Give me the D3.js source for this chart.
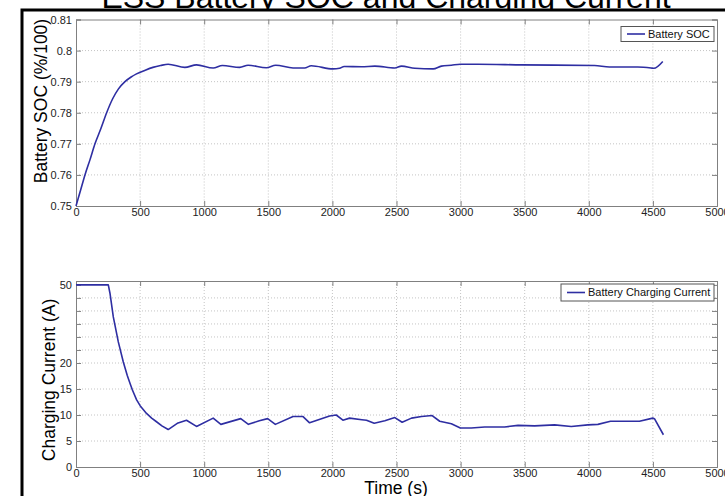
<!DOCTYPE html>
<html>
<head>
<meta charset="utf-8">
<script src="https://cdn.jsdelivr.net/npm/d3@7"></script>
<style>
  body { margin: 0; background: #fff; }
  svg { display: block; font-family: Arial, "Liberation Sans", sans-serif; }
</style>
</head>
<body>
<div id="chart"></div>
<script>
// values
var titleText = "ESS Battery SOC and Charging Current";

var socTime = [0, 35, 70, 110, 148, 195, 239, 286, 330, 382, 430, 472, 540, 600, 660, 719,
  849, 940, 1070, 1142, 1277, 1342, 1485, 1558, 1693, 1783, 1835, 2004, 2056, 2092, 2227,
  2331, 2487, 2539, 2643, 2786, 2850, 2928, 2998, 3136, 3474, 4045, 4161, 4382, 4486, 4507, 4577];
var socValue = [0.750, 0.755, 0.760, 0.765, 0.770, 0.775, 0.780, 0.7845, 0.7876, 0.7900, 0.7915, 0.7925, 0.7937, 0.7946, 0.7952, 0.7956,
  0.7946, 0.7954, 0.7944, 0.7952, 0.7946, 0.7953, 0.7945, 0.7953, 0.7944, 0.7944, 0.7951, 0.7941, 0.7943, 0.7949, 0.7948,
  0.7950, 0.7944, 0.7950, 0.7943, 0.7941, 0.7950, 0.7953, 0.7956, 0.7956, 0.7954, 0.7952, 0.7947, 0.7947, 0.7944, 0.7943, 0.7965];

var curTime = [0, 252, 265, 291, 330, 369, 400, 421, 440, 473, 500, 550, 590, 628, 670, 719, 790, 862, 940, 1070,
  1130, 1285, 1345, 1430, 1495, 1555, 1693, 1771, 1822, 1978, 2030, 2082, 2134, 2230, 2266, 2326, 2409, 2487, 2544, 2617,
  2695, 2778, 2837, 2928, 2998, 3083, 3188, 3343, 3448, 3577, 3733, 3863, 3993, 4071, 4169, 4304, 4395, 4499, 4512, 4582];
var curValue = [50, 50, 46.8, 37.7, 28.1, 20.4, 17.6, 16.1, 14.8, 12.9, 11.8, 10.3, 9.4, 8.7, 7.9, 7.2, 8.4, 9.0, 7.8, 9.4,
  8.2, 9.3, 8.2, 8.9, 9.3, 8.2, 9.7, 9.7, 8.5, 9.8, 10.0, 9.0, 9.4, 9.1, 9.0, 8.4, 8.9, 9.5, 8.6, 9.4,
  9.7, 9.9, 8.8, 8.3, 7.5, 7.5, 7.7, 7.7, 8.0, 7.9, 8.1, 7.8, 8.1, 8.2, 8.8, 8.8, 8.8, 9.4, 9.3, 6.2];

var timeTicks = [0, 500, 1000, 1500, 2000, 2500, 3000, 3500, 4000, 4500, 5000];
var socTicks = [0.75, 0.76, 0.77, 0.78, 0.79, 0.80, 0.81];
var socTickLabels = ["0.75", "0.76", "0.77", "0.78", "0.79", "0.8", "0.81"];
var curTicks = [0, 5, 10, 15, 20, 25, 30, 35, 40, 45, 50];
var curTickLabels = ["0", "5", "10", "15", "20", "", "", "", "", "", "50"];

var W = 725, H = 496,
    lineColor = "#2e2ea2", axisColor = "#808080", gridColor = "#c4c4c4",
    plotW = 641;

var svg = d3.select("#chart").append("svg")
  .attr("width", W).attr("height", H);

// title (top is cut off in the picture)
svg.append("text")
  .attr("x", 386).attr("y", 8)
  .attr("text-anchor", "middle")
  .style("font-size", "32px")
  .text(titleText);

// outer black frame
svg.append("rect")
  .attr("x", 22).attr("y", 10)
  .attr("width", 800).attr("height", 600)
  .attr("fill", "#fff").attr("stroke", "#000").attr("stroke-width", 3);

var xScale = d3.scaleLinear().domain([0, 5000]).range([0, plotW]);

function drawPanel(p){
  var g = svg.append("g").attr("transform", "translate(" + p.left + "," + p.top + ")");
  var h = p.height, y = p.y;

  // grid
  g.append("g").selectAll("line").data(timeTicks.slice(1, -1)).join("line")
    .attr("x1", d => xScale(d)).attr("x2", d => xScale(d))
    .attr("y1", 0).attr("y2", h)
    .attr("stroke", gridColor).attr("stroke-dasharray", "1,2");
  g.append("g").selectAll("line").data(p.ticks.slice(1, -1)).join("line")
    .attr("x1", 0).attr("x2", plotW)
    .attr("y1", d => y(d)).attr("y2", d => y(d))
    .attr("stroke", gridColor).attr("stroke-dasharray", "1,2");

  // axes, ticks pointing inward like matlab
  var xb = g.append("g").attr("transform", "translate(0," + h + ")")
    .call(d3.axisBottom(xScale).tickValues(timeTicks).tickSize(-5).tickPadding(2)
      .tickFormat(d => String(d)));
  var xt = g.append("g")
    .call(d3.axisTop(xScale).tickValues(timeTicks).tickSize(-5).tickFormat(""));
  var yl = g.append("g")
    .call(d3.axisLeft(y).tickValues(p.ticks).tickSize(-5).tickPadding(4)
      .tickFormat((d, i) => p.labels[i]));
  var yr = g.append("g").attr("transform", "translate(" + plotW + ",0)")
    .call(d3.axisRight(y).tickValues(p.ticks).tickSize(-5).tickFormat(""));
  [xb, xt, yl, yr].forEach(function(a){
    a.attr("font-family", null);
    a.selectAll("path, line").attr("stroke", axisColor);
    a.selectAll("text").attr("fill", "#222").style("font-size", "11px");
  });

  // data line
  g.append("path")
    .datum(d3.zip(p.xs, p.ys))
    .attr("fill", "none")
    .attr("stroke", lineColor)
    .attr("stroke-width", 1.6)
    .attr("stroke-linejoin", "round")
    .attr("d", d3.line().curve(p.curve).x(d => xScale(d[0])).y(d => y(d[1])));

  // legend
  var lg = g.append("g").attr("transform", "translate(" + p.legend.x + "," + p.legend.y + ")");
  lg.append("rect").attr("width", p.legend.w).attr("height", p.legend.h)
    .attr("fill", "#fff").attr("stroke", "#555").attr("stroke-width", 1);
  lg.append("line").attr("x1", 6).attr("x2", 24)
    .attr("y1", p.legend.h / 2).attr("y2", p.legend.h / 2)
    .attr("stroke", lineColor).attr("stroke-width", 1.6);
  lg.append("text").attr("x", 27).attr("y", p.legend.h / 2).attr("dy", "0.35em")
    .style("font-size", "11px").attr("fill", "#111")
    .text(p.legend.text);

  // y label
  svg.append("text")
    .attr("transform", "translate(" + p.ylabX + "," + p.ylabY + ") rotate(-90)")
    .attr("text-anchor", "middle")
    .style("font-size", "17.5px")
    .text(p.ylabel);
}

drawPanel({
  left: 76, top: 19.5, height: 186.5,
  y: d3.scaleLinear().domain([0.75, 0.81]).range([186.5, 0]),
  ticks: socTicks, labels: socTickLabels,
  xs: socTime, ys: socValue, curve: d3.curveMonotoneX,
  legend: {x: 545, y: 7, w: 93, h: 15, text: "Battery SOC"},
  ylabel: "Battery SOC (%/100)", ylabX: 47, ylabY: 101
});

drawPanel({
  left: 76, top: 281, height: 186,
  // the axis in the picture is squeezed above 20
  y: d3.scaleLinear().domain([0, 20, 51.5]).range([186, 82, 0]),
  ticks: curTicks, labels: curTickLabels,
  xs: curTime, ys: curValue, curve: d3.curveLinear,
  legend: {x: 485, y: 3, w: 153, h: 17, text: "Battery Charging Current"},
  ylabel: "Charging Current (A)", ylabX: 55, ylabY: 380
});

// x label
svg.append("text")
  .attr("x", 396).attr("y", 494)
  .attr("text-anchor", "middle")
  .style("font-size", "17.5px")
  .text("Time (s)");
</script>
</body>
</html>
